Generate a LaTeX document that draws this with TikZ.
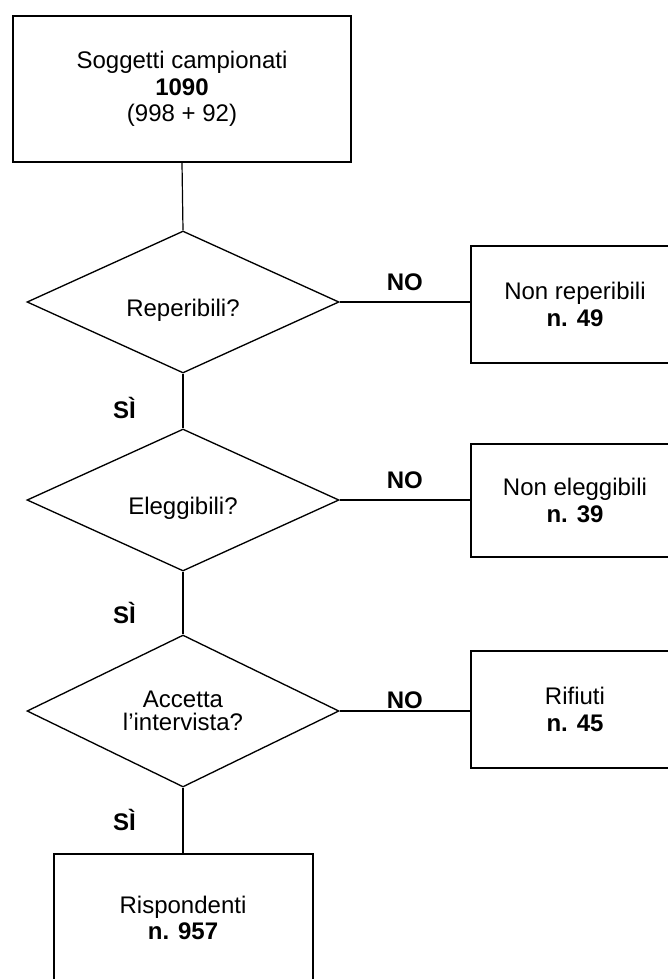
\documentclass[tikz,border=0pt]{standalone}
\usepackage{fontspec}
\setmainfont{Liberation Sans}
\usetikzlibrary{shapes.geometric,positioning}

\begin{document}
\begin{tikzpicture}[x=0.75pt,y=-0.75pt,
  every node/.style={font=\fontsize{18}{20}\selectfont},
  box/.style={draw,line width=1.5pt,align=center,inner sep=0pt},
  ask/.style={diamond,draw,line width=1pt,align=center,aspect=2.2,inner sep=0pt,
              minimum width=234pt,minimum height=106.5pt},
  link/.style={line width=0.9pt},
  lbl/.style={font=\fontsize{18}{20}\selectfont\bfseries,inner sep=0pt}]
  \useasboundingbox (0,0) rectangle (668,979);
  \clip (0,0) rectangle (668,979);
  % main column
  \node[box,minimum width=253.5pt,minimum height=109.5pt] (camp) at (182,89) {Soggetti campionati\\\textbf{1090}\\(998 + 92)};
  \node[ask,text height=26pt,text depth=4pt] (rep) at (183,302) {Reperibili?};
  \node[ask,text height=26pt,text depth=4pt] (ele) at (183,500) {Eleggibili?};
  \node[ask,minimum height=114pt,font=\fontsize{18}{17.5}\selectfont] (acc) at (183,711) {Accetta\\l'intervista?};
  \node[box,minimum width=194.25pt,minimum height=96pt] (risp) at (183,918) {Rispondenti\\\textbf{n. 957}};
  % exits on the right
  \node[box,minimum width=156pt,minimum height=87.75pt] (nrep) at (575,304.5) {Non reperibili\\\textbf{n. 49}};
  \node[box,minimum width=156pt,minimum height=84.75pt] (nele) at (575,500.5) {Non eleggibili\\\textbf{n. 39}};
  \node[box,minimum width=156pt,minimum height=87.75pt] (rif) at (575,709.5) {Rifiuti\\\textbf{n. 45}};
  % connectors
  \draw[link] (camp.south) -- (rep.north);
  \draw[link] (rep.south) -- node[lbl,left=35pt,pos=0.62]{SÌ} (ele.north);
  \draw[link] (ele.south) -- node[lbl,left=35pt,pos=0.66]{SÌ} (acc.north);
  \draw[link] (acc.south) -- node[lbl,left=35pt,pos=0.49]{SÌ} (risp.north);
  \draw[link] (rep.east) -- node[lbl,above=8pt]{NO} (rep.east -| nrep.west);
  \draw[link] (ele.east) -- node[lbl,above=8pt]{NO} (ele.east -| nele.west);
  \draw[link] (acc.east) -- node[lbl,above=1pt]{NO} (acc.east -| rif.west);
\end{tikzpicture}
\end{document}
